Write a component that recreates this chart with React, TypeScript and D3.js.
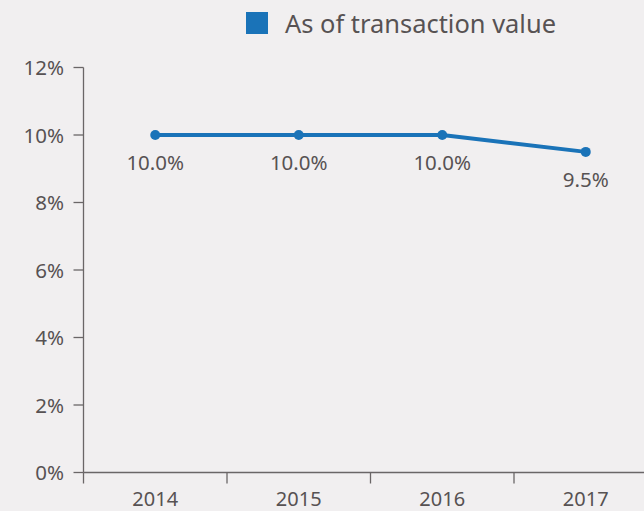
import React from "react";
import * as d3 from "d3";

const categories = ["2014", "2015", "2016", "2017"];
const values = [10.0, 10.0, 10.0, 9.5];
const yTicks = [0, 2, 4, 6, 8, 10, 12];
const seriesName = "As of transaction value";

const W = 644;
const H = 511;
const left = 83.5;
const bottom = 472.5;
const top = 67.5;
const bandW = 143.5;

export default function App() {
  const x = d3
    .scaleBand<string>()
    .domain(categories)
    .range([left, left + bandW * categories.length])
    .paddingInner(0)
    .paddingOuter(0);
  const y = d3.scaleLinear().domain([0, 12]).range([bottom, top]);
  const cx = (c: string) => (x(c) as number) + x.bandwidth() / 2;
  const pts = categories.map((c, i) => [cx(c), y(values[i])] as [number, number]);
  const line = d3.line()(pts) || "";
  const font = "'Noto Sans', 'Open Sans', sans-serif";
  const textCol = "#575253";
  const axisCol = "#6a6667";
  const blue = "#1a73b8";
  const boundaries = categories.map((c) => x(c) as number);

  return (
    <svg
      width={W}
      height={H}
      style={{ position: "absolute", left: 0, top: 0, background: "#f1eff0" }}
      fontFamily={font}
    >
      <rect x={0} y={0} width={W} height={H} fill="#f1eff0" />
      {/* legend */}
      <rect x={246} y={12} width={22} height={22} fill={blue} />
      <text x={285} y={33} fontSize={25.5} fill={textCol} textLength={271} lengthAdjust="spacingAndGlyphs">
        {seriesName}
      </text>
      {/* y axis */}
      <line x1={left} x2={left} y1={top} y2={bottom} stroke={axisCol} strokeWidth={1.3} />
      {yTicks.map((t) => (
        <g key={t}>
          <line x1={left - 10} x2={left} y1={y(t)} y2={y(t)} stroke={axisCol} strokeWidth={1.3} />
          <text
            x={64}
            y={y(t) + 7.5}
            fontSize={20.5}
            textAnchor="end"
            fill={textCol}
          >
            {t}%
          </text>
        </g>
      ))}
      {/* x axis */}
      <line x1={left} x2={W} y1={bottom} y2={bottom} stroke={axisCol} strokeWidth={1.3} />
      {boundaries.map((b, i) => (
        <line key={i} x1={b} x2={b} y1={bottom} y2={bottom + 11} stroke={axisCol} strokeWidth={1.3} />
      ))}
      {categories.map((c) => (
        <text key={c} x={cx(c)} y={506} fontSize={20} textAnchor="middle" fill={textCol}>
          {c}
        </text>
      ))}
      {/* line */}
      <path d={line} fill="none" stroke={blue} strokeWidth={4} strokeLinejoin="round" />
      {pts.map((p, i) => (
        <circle key={i} cx={p[0]} cy={p[1]} r={5} fill={blue} />
      ))}
      {pts.map((p, i) => (
        <text
          key={"l" + i}
          x={p[0]}
          y={p[1] + 35}
          fontSize={20.5}
          textAnchor="middle"
          fill={textCol}
        >
          {values[i].toFixed(1)}%
        </text>
      ))}
    </svg>
  );
}
